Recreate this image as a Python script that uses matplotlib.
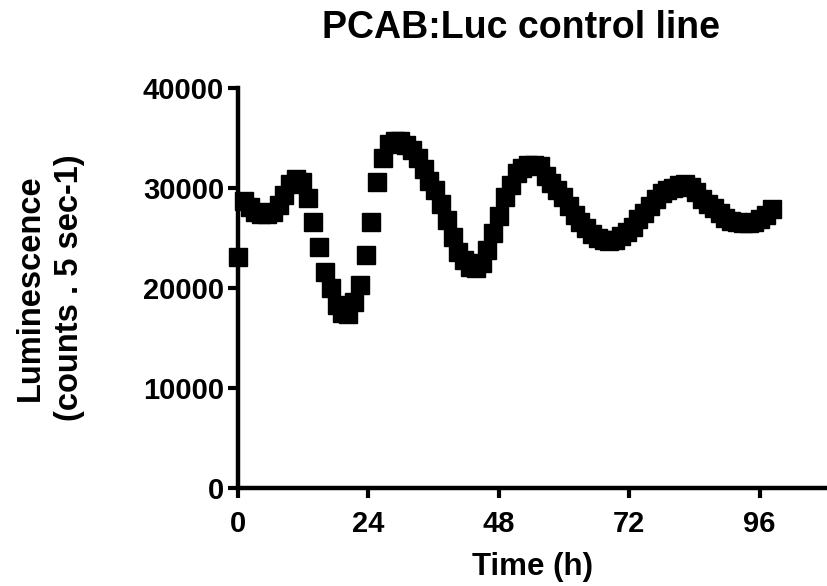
import numpy as np
import matplotlib
matplotlib.use('Agg')
import matplotlib.pyplot as plt

plt.rcParams['font.family'] = ['Liberation Sans', 'DejaVu Sans']
plt.rcParams['font.weight'] = 'bold'

# sampling interval (h) and luminescence readings
dt = 1.068
lum = [23100, 28700, 28100, 27600, 27400, 27400, 27600, 28300, 29300, 30400,
       30900, 30600, 29000, 26600, 24100, 21600, 20000, 18300, 17500, 17400,
       18600, 20300, 23300, 26600, 30600, 33000, 34400, 34700, 34700, 34300,
       33800, 33000, 31900, 30700, 29800, 28400, 26800, 25100, 23600, 22800,
       22100, 22000, 22500, 23800, 25500, 27200, 29100, 30300, 31500, 32000,
       32300, 32300, 32200, 31200, 30500, 29800, 29100, 28200, 27300, 26600,
       26000, 25450, 25000, 24800, 24700, 24800, 25200, 25600, 26150, 26900,
       27500, 28200, 28900, 29500, 29800, 30000, 30300, 30400, 30100, 29600,
       28900, 28450, 28000, 27500, 27000, 26700, 26600, 26500, 26500, 26600,
       26900, 27300, 27900]
time = np.arange(len(lum)) * dt

xticks = [0, 24, 48, 72, 96]
yticks = [0, 10000, 20000, 30000, 40000]

fig = plt.figure(figsize=(8.28, 5.86), dpi=100)
ax = fig.add_axes([238 / 828, 98 / 586, 590 / 828, 400 / 586])

ax.plot(time, lum, 's', color='black', markersize=12.4, clip_on=False)

ax.set_xlim(0, 108.6)
ax.set_ylim(0, 40000)
ax.set_xticks(xticks)
ax.set_yticks(yticks)
ax.set_xticklabels([str(t) for t in xticks])
ax.set_yticklabels([str(t) for t in yticks])

for s in ['top', 'right']:
    ax.spines[s].set_visible(False)
for s in ['left', 'bottom']:
    ax.spines[s].set_linewidth(3.2)
ax.tick_params(axis='both', width=3, length=7, labelsize=21)
ax.tick_params(axis='x', pad=9)
ax.tick_params(axis='y', pad=3)

ax.set_xlabel('Time (h)', fontsize=22.5, fontweight='bold', labelpad=10)
ax.set_ylabel('Luminescence\n(counts . 5 sec-1)', fontsize=23.5, fontweight='bold',
              labelpad=42, linespacing=1.3)
ax.set_title('PCAB:Luc control line', fontsize=27, fontweight='bold', pad=36,
             x=0.48)

fig.savefig('out.png', dpi=100)
